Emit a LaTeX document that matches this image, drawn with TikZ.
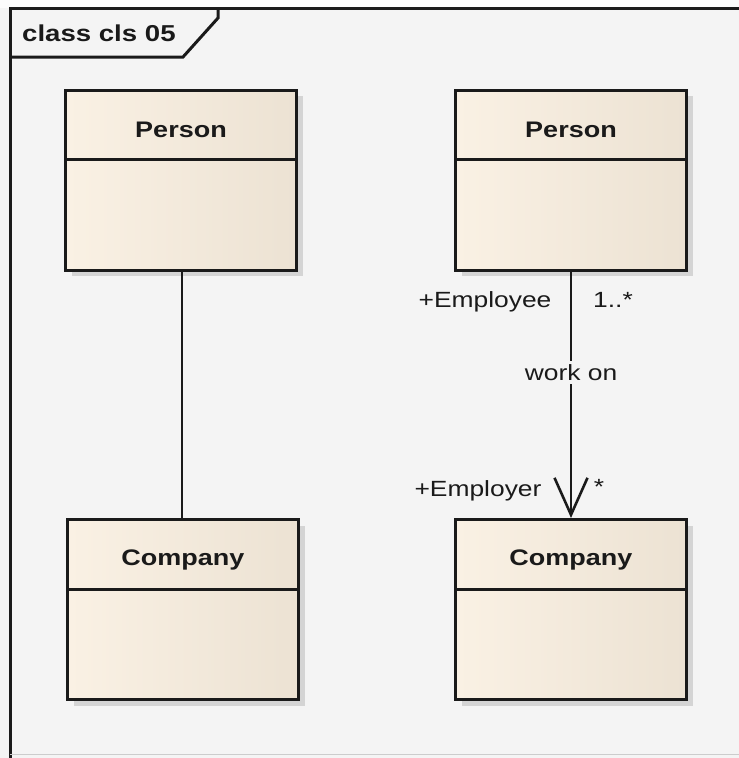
\documentclass[tikz,border=0pt]{standalone}
\usepackage{fontspec}
\setmainfont{Liberation Sans}
\usetikzlibrary{arrows.meta,shadows}
\definecolor{bgc}{HTML}{F4F4F4}
\definecolor{boxl}{HTML}{FAF1E4}
\definecolor{boxr}{HTML}{ECE2D3}
\definecolor{ink}{HTML}{1A1A1A}
\newcommand{\wtxt}[1]{\scalebox{1.2}[1]{#1}}
\begin{document}
\begin{tikzpicture}[x=1pt,y=-1pt,
  font=\fontsize{22}{26}\selectfont,
  classbox/.style={draw=ink, line width=3pt, minimum width=231pt, minimum height=180pt,
    inner sep=0pt, left color=boxl, right color=boxr,
    drop shadow={shadow xshift=6pt, shadow yshift=-6pt, fill=gray!50, opacity=0.6}},
  cname/.style={font=\fontsize{22.5}{26}\selectfont\bfseries, text=ink, inner sep=0pt},
  divline/.style={draw=ink, line width=3pt},
  conn/.style={draw=ink, line width=2.6pt},
  lbl/.style={text=ink, inner sep=1pt}
]
\useasboundingbox (0,0) rectangle (739,758);
\fill[bgc] (0,0) rectangle (739,758);
\fill[white!60!bgc] (0,0) rectangle (739,8);
% frame
\draw[ink, line width=3pt] (10,758) -- (10,8) -- (739,8);
\draw[ink, line width=3pt] (10,57) -- (183,57) -- (218,18) -- (218,8);
\draw[gray!40, line width=1pt] (10,754) -- (739,754);
\node[cname, anchor=west, font=\fontsize{23}{26}\selectfont\bfseries] (title) at (22,33) {\wtxt{class cls 05}};

% classes
\node[classbox] (p1) at (181,180) {};
\node[classbox] (p2) at (571,180) {};
\node[classbox] (c1) at (183,609.5) {};
\node[classbox] (c2) at (571,609.5) {};

\draw[divline] ([yshift=-71pt]p1.north west) -- ([yshift=-71pt]p1.north east);
\draw[divline] ([yshift=-71pt]p2.north west) -- ([yshift=-71pt]p2.north east);
\draw[divline] ([yshift=-71pt]c1.north west) -- ([yshift=-71pt]c1.north east);
\draw[divline] ([yshift=-71pt]c2.north west) -- ([yshift=-71pt]c2.north east);

\node[cname] (p1n) at ([yshift=-41pt]p1.north) {\wtxt{Person}};
\node[cname] (p2n) at ([yshift=-41pt]p2.north) {\wtxt{Person}};
\node[cname] (c1n) at ([yshift=-42pt]c1.north) {\wtxt{Company}};
\node[cname] (c2n) at ([yshift=-42pt]c2.north) {\wtxt{Company}};

% connectors
\draw[conn] ([xshift=1pt]p1.south) -- ([xshift=1pt]p1.south |- c1.north);
\draw[conn, -{Straight Barb[length=37pt, width=33pt, line width=2.6pt]}] (p2.south) --
  node[pos=0.41, fill=bgc, lbl, inner sep=3pt] (wo) {\wtxt{work on}} (c2.north);

\node[lbl] (emp) at (485,302) {\wtxt{+Employee}};
\node[lbl] (m1) at (613,300) {\wtxt{1..*}};
\node[lbl] (empr) at (478,491) {\wtxt{+Employer}};
\node[lbl] (m2) at (599,487) {\wtxt{*}};
\end{tikzpicture}
\end{document}
